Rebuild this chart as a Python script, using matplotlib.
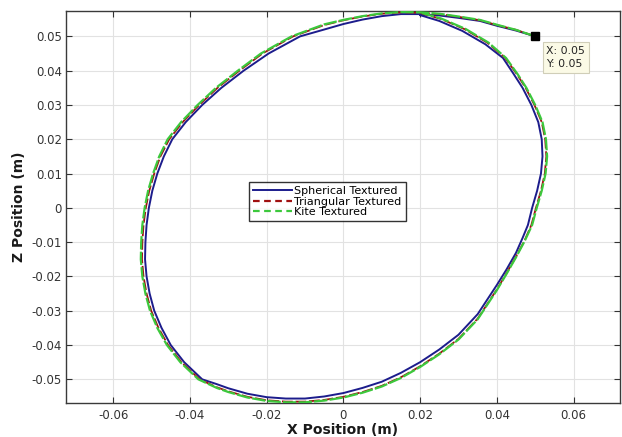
import matplotlib
matplotlib.use("Agg")
import matplotlib.pyplot as plt
from matplotlib.lines import Line2D

plt.rcParams['font.family'] = ['DejaVu Sans']
plt.rcParams['axes.unicode_minus'] = False

# Spherical Textured trajectory (x, z) in metres, starting at the data tip (0.05, 0.05)
sph_x = [0.050, 0.045, 0.040, 0.0356, 0.030, 0.025, 0.020, 0.015, 0.010, 0.005, 0.000, -0.005,
         -0.0113, -0.0195, -0.0260, -0.0318, -0.0368, -0.0411, -0.0446, -0.0468, -0.0485, -0.0498,
         -0.0507, -0.0513, -0.0516, -0.0517, -0.0513, -0.0505, -0.0493, -0.0474, -0.0450, -0.0415, -0.0368,
         -0.033, -0.030, -0.025, -0.020, -0.015, -0.010, -0.005, 0.000, 0.005, 0.010, 0.015, 0.020,
         0.025, 0.030, 0.035, 0.040, 0.0425, 0.045, 0.0467,
         0.0481, 0.0492, 0.0505, 0.0515, 0.0519, 0.0517, 0.0508, 0.0490, 0.0467, 0.0444, 0.0416,
         0.037, 0.031, 0.025, 0.020]
sph_z = [0.050, 0.0517, 0.0531, 0.0545, 0.0554, 0.0561, 0.0565, 0.0565, 0.0559, 0.0549, 0.0536, 0.0520,
         0.050, 0.045, 0.040, 0.035, 0.030, 0.025, 0.020, 0.015, 0.010, 0.005,
         0.000, -0.005, -0.010, -0.015, -0.020, -0.025, -0.030, -0.035, -0.040, -0.045, -0.050,
         -0.0514, -0.0526, -0.0542, -0.0552, -0.0556, -0.0556, -0.0550, -0.0540, -0.0525, -0.0507, -0.0481, -0.0450,
         -0.0413, -0.0370, -0.0310, -0.0225, -0.0180, -0.0131, -0.0088,
         -0.005, 0.000, 0.005, 0.010, 0.015, 0.020, 0.025, 0.030, 0.035, 0.039, 0.0437,
         0.0477, 0.0516, 0.0545, 0.0562]

# Triangular Textured trajectory
tri_x = [0.050, 0.045, 0.040, 0.0356, 0.030, 0.025, 0.020, 0.015, 0.010, 0.005, 0.000, -0.005,
         -0.0131, -0.0211, -0.0271, -0.0328, -0.0376, -0.0419, -0.0454, -0.0477, -0.0493, -0.0506,
         -0.0515, -0.0521, -0.0524, -0.0525, -0.0521, -0.0513, -0.0501, -0.0482, -0.0457, -0.0422, -0.0375,
         -0.033, -0.030, -0.025, -0.020, -0.015, -0.010, -0.005, 0.000, 0.005, 0.010, 0.015, 0.020,
         0.025, 0.030, 0.035, 0.040, 0.0425, 0.045, 0.0472,
         0.0490, 0.0502, 0.0515, 0.0525, 0.0529, 0.0526, 0.0517, 0.0498, 0.0475, 0.0452, 0.0422,
         0.0376, 0.0316, 0.0254, 0.0204]
tri_z = [0.050, 0.0519, 0.0533, 0.0547, 0.0557, 0.0565, 0.0569, 0.0570, 0.0566, 0.0558, 0.0547, 0.0533,
         0.050, 0.045, 0.040, 0.035, 0.030, 0.025, 0.020, 0.015, 0.010, 0.005,
         0.000, -0.005, -0.010, -0.015, -0.020, -0.025, -0.030, -0.035, -0.040, -0.045, -0.050,
         -0.0523, -0.0535, -0.0551, -0.0561, -0.0565, -0.0565, -0.0560, -0.0551, -0.0537, -0.0519, -0.0494, -0.0462,
         -0.0425, -0.0382, -0.0323, -0.0238, -0.0191, -0.0142, -0.0096,
         -0.005, 0.000, 0.005, 0.010, 0.015, 0.020, 0.025, 0.030, 0.035, 0.039, 0.0437,
         0.0481, 0.0521, 0.0551, 0.0567]

# Kite Textured trajectory
kite_x = [0.050, 0.045, 0.040, 0.0356, 0.030, 0.025, 0.020, 0.015, 0.010, 0.005, 0.000, -0.005,
          -0.0135, -0.0215, -0.0275, -0.0332, -0.0380, -0.0423, -0.0458, -0.0480, -0.0496, -0.0509,
          -0.0518, -0.0524, -0.0527, -0.0528, -0.0524, -0.0516, -0.0504, -0.0485, -0.0460, -0.0425, -0.0378,
          -0.033, -0.030, -0.025, -0.020, -0.015, -0.010, -0.005, 0.000, 0.005, 0.010, 0.015, 0.020,
          0.025, 0.030, 0.035, 0.040, 0.0425, 0.045, 0.0472,
          0.0492, 0.0504, 0.0517, 0.0527, 0.0531, 0.0528, 0.0519, 0.0500, 0.0477, 0.0454, 0.0424,
          0.0378, 0.0318, 0.0255, 0.0205]
kite_z = [0.050, 0.0519, 0.0534, 0.0548, 0.0558, 0.0566, 0.0570, 0.0571, 0.0567, 0.0559, 0.0548, 0.0535,
          0.050, 0.045, 0.040, 0.035, 0.030, 0.025, 0.020, 0.015, 0.010, 0.005,
          0.000, -0.005, -0.010, -0.015, -0.020, -0.025, -0.030, -0.035, -0.040, -0.045, -0.050,
          -0.0525, -0.0537, -0.0553, -0.0563, -0.0567, -0.0567, -0.0562, -0.0553, -0.0539, -0.0521, -0.0496, -0.0464,
          -0.0427, -0.0384, -0.0325, -0.0240, -0.0193, -0.0144, -0.0098,
          -0.005, 0.000, 0.005, 0.010, 0.015, 0.020, 0.025, 0.030, 0.035, 0.039, 0.0437,
          0.0482, 0.0522, 0.0552, 0.0568]

series_labels = ["Spherical Textured", "Triangular Textured", "Kite Textured"]
xticks = [-0.06, -0.04, -0.02, 0.0, 0.02, 0.04, 0.06]
xtick_labels = ["-0.06", "-0.04", "-0.02", "0", "0.02", "0.04", "0.06"]
zticks = [-0.05, -0.04, -0.03, -0.02, -0.01, 0.0, 0.01, 0.02, 0.03, 0.04, 0.05]
ztick_labels = ["-0.05", "-0.04", "-0.03", "-0.02", "-0.01", "0", "0.01", "0.02", "0.03", "0.04", "0.05"]
tip_x, tip_z = 0.05, 0.05

blue = '#1c1c8c'
red = '#a01010'
green = '#3cc83c'

fig = plt.figure(figsize=(6.22, 4.37), dpi=100)
ax = fig.add_axes([66/622, 1-403/437, (620-66)/622, (403-11)/437])

ax.plot(sph_x, sph_z, color=blue, lw=1.4, zorder=3)
ax.plot(tri_x, tri_z, color=red, lw=1.3, ls=(0, (6, 1.5)), zorder=4)
ax.plot(kite_x, kite_z, color=green, lw=1.6, ls=(0, (6, 1.0)), zorder=5)

ax.plot([tip_x], [tip_z], marker='s', color='black', ms=5.5, zorder=6)
ax.annotate("X: 0.05\nY: 0.05", xy=(tip_x, tip_z), xytext=(8, -7), textcoords='offset points',
            ha='left', va='top', fontsize=7.8, color='#222222', linespacing=1.35,
            bbox=dict(boxstyle='square,pad=0.35', fc='#fbfae6', ec='#d0ceb8', lw=0.8), zorder=7)

ax.set_xlim(-0.0723, 0.0721)
ax.set_ylim(-0.0569, 0.0574)
ax.set_xticks(xticks)
ax.set_xticklabels(xtick_labels)
ax.set_yticks(zticks)
ax.set_yticklabels(ztick_labels)
ax.tick_params(direction='in', length=4, width=0.8, top=True, right=True,
               labelsize=8.5, colors='#333333')
ax.tick_params(axis='x', pad=4)
ax.tick_params(axis='y', pad=3)
ax.grid(True, color='#e2e2e2', lw=0.8)
ax.set_axisbelow(True)
for s in ax.spines.values():
    s.set_color('#3a3a3a')
    s.set_linewidth(1.0)

ax.set_xlabel("X Position (m)", fontsize=10, fontweight='bold', color='#1a1a1a')
ax.set_ylabel("Z Position (m)", fontsize=10, fontweight='bold', color='#1a1a1a')
ax.xaxis.set_label_coords(0.5, -0.052)
ax.yaxis.set_label_coords(-0.072, 0.5)

handles = [Line2D([], [], color=blue, lw=1.4),
           Line2D([], [], color=red, lw=1.6, ls=(0, (3, 2))),
           Line2D([], [], color=green, lw=1.6, ls=(0, (3, 2)))]
leg = ax.legend(handles, series_labels, loc='center', bbox_to_anchor=(0.472, 0.514),
                fontsize=8, frameon=True, fancybox=False, edgecolor='black',
                handlelength=3.5, handletextpad=0.2, labelspacing=0.05,
                borderpad=0.35, borderaxespad=0)
leg.get_frame().set_linewidth(1.0)

fig.savefig("out.png", dpi=100)
